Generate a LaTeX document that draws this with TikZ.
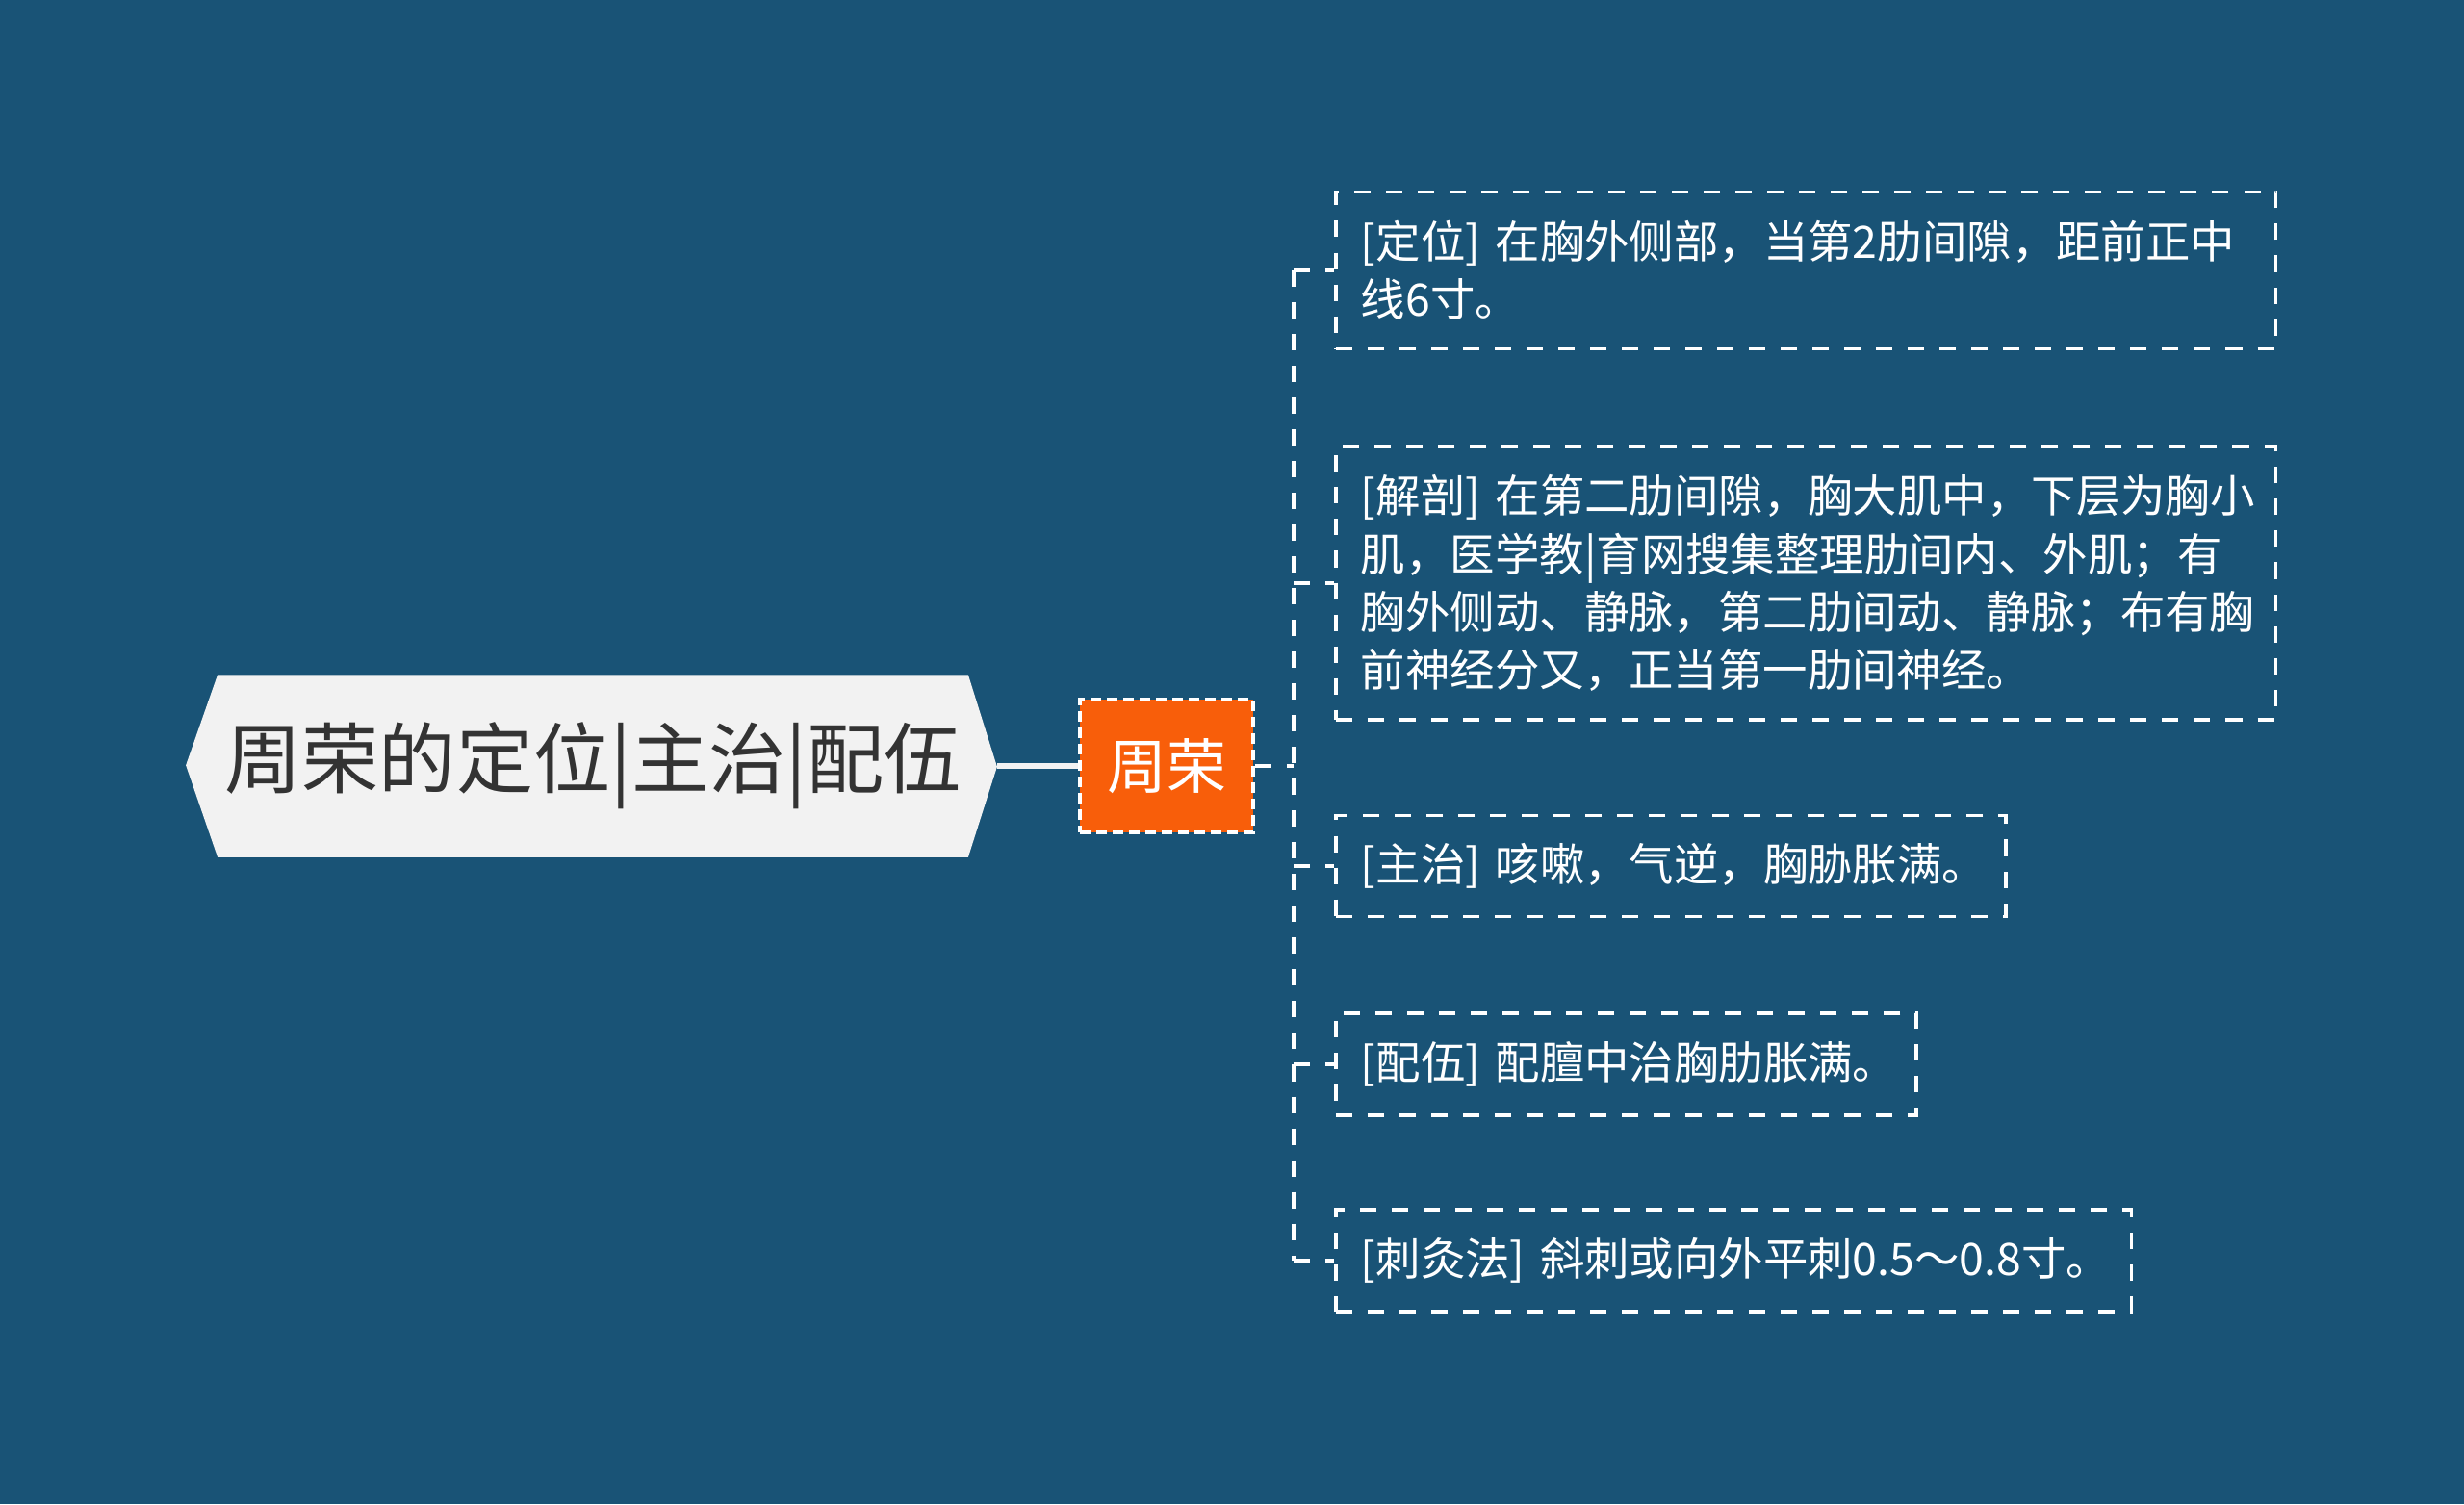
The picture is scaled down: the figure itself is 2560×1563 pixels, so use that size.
\documentclass[tikz,border=0pt]{standalone}
\usepackage{fontspec}
\newfontfamily\cjk{Noto Sans CJK SC}
\usetikzlibrary{positioning,backgrounds}

\definecolor{bgblue}{RGB}{25,83,118}
\definecolor{rootgray}{RGB}{242,242,242}
\definecolor{rootink}{RGB}{51,51,51}
\definecolor{topicorange}{RGB}{248,94,10}

\tikzset{
  rootbox/.style={font=\cjk\fontsize{22.8pt}{28pt}\selectfont, text=rootink,
    minimum width=7.78cm, minimum height=1.88cm, inner sep=0pt},
  topicbox/.style={draw=white, dash pattern=on 0.11cm off 0.06cm, line width=1pt,
    fill=topicorange, text=white, font=\cjk\fontsize{17.6pt}{20pt}\selectfont,
    minimum width=1.8cm, minimum height=1.38cm, inner sep=0pt},
  leafbox/.style={draw=white, dash pattern=on 0.17cm off 0.16cm, line width=1.1pt,
    text=white, font=\cjk\fontsize{13.2pt}{17.1pt}\selectfont, align=left,
    anchor=west, inner xsep=0.26cm, inner ysep=0pt},
  link/.style={draw=white, dash pattern=on 0.17cm off 0.16cm, line width=1.1pt},
  rootline/.style={draw=rootgray, line width=1.5pt}
}

\begin{document}
\begin{tikzpicture}[x=0.01cm,y=-0.01cm]
\useasboundingbox (0,0) rectangle (2560,1563);

% Root and topic
\node[rootbox] (root) at (616,796) {周荣的定位|主治|配伍};
\node[topicbox] (topic) at (1212,796) {周荣};
\coordinate (trunk) at (1344,796);

% Leaves
\node[leafbox, text width=9.24cm, minimum height=1.63cm] (locate) at (1386,281)
  {[定位]~在胸外侧部，当第2肋间隙，距前正中\\线6寸。};
\node[leafbox, text width=9.24cm, minimum height=2.83cm] (anatomy) at (1386,606)
  {[解剖]~在第二肋间隙，胸大肌中，下层为胸小\\肌，医学教|育网搜集整理肋间内、外肌；有\\胸外侧动、静脉，第二肋间动、静脉；布有胸\\前神经分又，正当第一肋间神经。};
\node[leafbox, text width=6.44cm, minimum height=1.05cm] (indication) at (1386,900)
  {[主治]~咳嗽，气逆，胸胁胀满。};
\node[leafbox, text width=5.51cm, minimum height=1.06cm] (combine) at (1386,1106)
  {[配伍]~配膻中治胸肋胀满。};
\node[leafbox, text width=7.74cm, minimum height=1.06cm] (needling) at (1386,1310)
  {[刺灸法]~斜刺或向外平刺0.5～0.8寸。};

% Connectors
\draw[rootline] ([xshift=0.3cm]root.east) -- (topic.west);
\draw[link] (topic.east) -- (trunk);
\draw[link] (trunk |- locate.west) -- (trunk |- needling.west);
\foreach \leaf in {locate,anatomy,indication,combine,needling}
  \draw[link] (trunk |- \leaf.west) -- (\leaf.west);

% Background and root shape
\begin{scope}[on background layer]
\fill[bgblue] (0,0) rectangle (2560,1563);
\fill[rootgray] (root.north west) -- ++(-33,94) -- (root.south west)
  -- (root.south east) -- ++(30,-94) -- (root.north east) -- cycle;
\end{scope}
\end{tikzpicture}
\end{document}
